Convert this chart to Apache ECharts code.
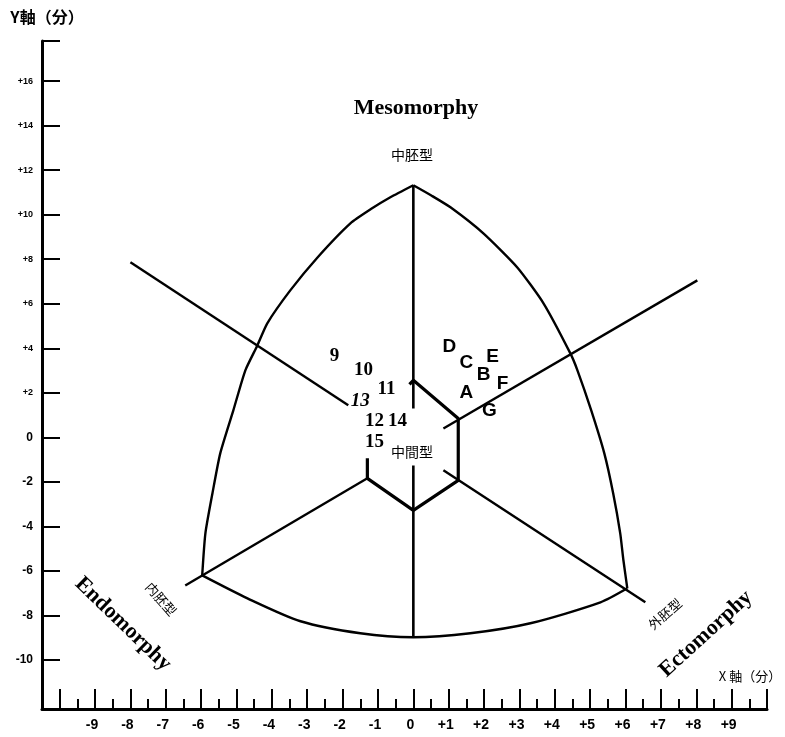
<!DOCTYPE html>
<html><head><meta charset="utf-8">
<script src="https://cdn.jsdelivr.net/npm/echarts@6/dist/echarts.min.js"></script>
<style>html,body{margin:0;padding:0;background:#fff}#c{width:785px;height:737px}</style>
</head><body><div id="c"></div>
<script>
// ---- axis ticks / labels ----
const xMajorTicks = [-10,-9,-8,-7,-6,-5,-4,-3,-2,-1,0,1,2,3,4,5,6,7,8,9,10];
const xMinorTicks = [-9.5,-8.5,-7.5,-6.5,-5.5,-4.5,-3.5,-2.5,-1.5,-0.5,0.5,1.5,2.5,3.5,4.5,5.5,6.5,7.5,8.5,9.5];
const xLabelValues = [-9,-8,-7,-6,-5,-4,-3,-2,-1,0,1,2,3,4,5,6,7,8,9];
const yTicks = [-10,-8,-6,-4,-2,0,2,4,6,8,10,12,14,16,17.8];
const yLabelValues = [-10,-8,-6,-4,-2,0,2,4,6,8,10,12,14,16];

// ---- somatochart outline ----
const leftArc = [[0,11.32],[-0.65,10.78],[-1.20,10.25],[-1.78,9.61],[-2.71,8.08],[-3.48,6.60],[-4.13,5.12],[-4.41,4.13],[-4.75,3.01],[-5.09,1.21],[-5.46,-0.72],[-5.68,-2.51],[-5.88,-4.31],[-5.97,-6.20]];
const rightArc = [[0,11.32],[0.52,10.85],[1.05,10.33],[1.98,9.16],[2.94,7.63],[3.68,6.02],[4.44,3.77],[4.64,3.01],[5.03,1.21],[5.40,-0.72],[5.65,-2.51],[5.85,-4.31],[5.94,-5.52],[6.05,-6.78]];
const bottomArc = [[-5.97,-6.20],[-4.69,-7.23],[-3.19,-8.26],[-1.50,-8.80],[0,-8.98],[1.61,-8.80],[3.31,-8.35],[5.29,-7.41],[6.05,-6.78]];
const mesoAxisUpper = [[0,11.32],[0,1.30]];
const mesoAxisLower = [[0,-1.26],[0,-8.98]];
const ectoAxisUpper = [[-8.00,7.86],[-1.84,1.44]];
const ectoAxisLower = [[0.85,-1.48],[6.56,-7.41]];
const endoAxisLower = [[-6.45,-6.65],[-1.30,-1.84]];
const endoAxisUpper = [[0.85,0.40],[8.03,7.05]];
const hexagonPath = [[-1.30,-0.94],[-1.30,-1.84],[0,-3.28],[1.27,-1.93],[1.27,0.85],[0,2.56],[-0.11,2.38]];

// ---- subjects ----
const letterNames = ['A','B','C','D','E','F','G'];
const letterX = [1.50,1.99,1.50,1.02,2.24,2.52,2.15];
const letterY = [2.02,2.83,3.37,4.09,3.64,2.42,1.21];
const numberNames = ['9','10','11','12','13','14','15'];
const numberX = [-2.23,-1.41,-0.76,-1.10,-1.50,-0.45,-1.10];
const numberY = [3.64,3.01,2.15,0.72,1.62,0.72,-0.22];

function lineSeries(data, width, smooth) {
  return {type:'line', data:data, symbol:'none', smooth:smooth||false, silent:true,
    lineStyle:{color:'#000', width:width}, z:3};
}

const chart = echarts.init(document.getElementById('c'), null, {renderer:'canvas'});
const labelBase = {show:true, position:'inside', color:'#000', opacity:1, textBorderWidth:0, fontWeight:'bold', fontSize:19};
const option = {
  animation:false,
  backgroundColor:'#fff',
  grid:{left:42, right:18, top:41, bottom:28},
  xAxis:[{
    type:'value', min:-10.5, max:10, position:'bottom',
    axisLine:{show:true, onZero:false, lineStyle:{color:'#000', width:3}},
    axisTick:{show:true, inside:true, length:20, customValues:xMajorTicks, lineStyle:{color:'#000', width:2}},
    axisLabel:{show:true, customValues:xLabelValues, margin:9, color:'#000', fontSize:14, fontWeight:'bold',
      fontFamily:'Liberation Sans, Arial', padding:[0,6,0,0],
      formatter:function(v){return v>0 ? '+'+v : String(v);}},
    splitLine:{show:false}
  },{
    type:'value', min:-10.5, max:10, position:'bottom',
    axisLine:{show:false, onZero:false},
    axisTick:{show:true, inside:true, length:10, customValues:xMinorTicks, lineStyle:{color:'#000', width:2}},
    axisLabel:{show:false}, splitLine:{show:false}
  }],
  yAxis:{
    type:'value', min:-12.2, max:17.8,
    axisLine:{show:true, onZero:false, lineStyle:{color:'#000', width:3}},
    axisTick:{show:true, inside:true, length:18, customValues:yTicks, lineStyle:{color:'#000', width:2}},
    axisLabel:{show:true, customValues:yLabelValues, margin:9, color:'#000', fontWeight:'bold',
      fontFamily:'Liberation Sans, Arial',
      formatter:function(v){return v>0 ? '{s|+'+v+'}' : '{b|'+v+'}';},
      rich:{s:{fontSize:9, fontWeight:'bold', color:'#000'}, b:{fontSize:12, fontWeight:'bold', color:'#000'}}},
    splitLine:{show:false}
  },
  series:[
    lineSeries(leftArc,2.4,0.2),
    lineSeries(rightArc,2.4,0.2),
    lineSeries(bottomArc,2.4,0.25),
    lineSeries(mesoAxisUpper,2.6),
    lineSeries(mesoAxisLower,2.6),
    lineSeries(ectoAxisUpper,2.4),
    lineSeries(ectoAxisLower,2.4),
    lineSeries(endoAxisLower,2.4),
    lineSeries(endoAxisUpper,2.4),
    lineSeries(hexagonPath,3.2),
    {type:'scatter', symbol:'circle', symbolSize:0.1, itemStyle:{color:'#000'}, z:5, silent:true,
      data:letterNames.map(function(n,i){return [letterX[i],letterY[i],n];}),
      label:Object.assign({}, labelBase, {fontFamily:'Liberation Sans, Arial',
        formatter:function(p){return p.data[2];}})},
    {type:'scatter', symbol:'circle', symbolSize:0.1, itemStyle:{color:'#000'}, z:5, silent:true,
      data:numberNames.map(function(n,i){
        return {value:[numberX[i],numberY[i],n], label:{fontStyle: n==='13' ? 'italic' : 'normal'}};
      }),
      label:Object.assign({}, labelBase, {fontFamily:'Liberation Serif, Times New Roman',
        formatter:function(p){return p.data.value[2];}})}
  ],
  graphic:[
    {type:'text', x:47, y:17, style:{text:'Y軸（分）', fill:'#000', font:'bold 16px "Noto Sans CJK JP"', textAlign:'center', textVerticalAlign:'middle'}},
    {type:'text', x:750, y:676, style:{text:'X 軸（分）', fill:'#000', font:'13px "Noto Sans CJK JP"', textAlign:'center', textVerticalAlign:'middle'}},
    {type:'text', x:416, y:108, style:{text:'Mesomorphy', fill:'#000', font:'bold 22px "Liberation Serif"', textAlign:'center', textVerticalAlign:'middle'}},
    {type:'text', x:412, y:155, style:{text:'中胚型', fill:'#000', font:'14px "Noto Sans CJK JP"', textAlign:'center', textVerticalAlign:'middle'}},
    {type:'text', x:412, y:452, z:6, style:{text:'中間型', fill:'#000', font:'14px "Noto Sans CJK JP"', textAlign:'center', textVerticalAlign:'middle'}},
    {type:'text', x:123, y:624, rotation:-0.77, style:{text:'Endomorphy', fill:'#000', font:'bold 22px "Liberation Serif"', textAlign:'center', textVerticalAlign:'middle'}},
    {type:'text', x:161, y:599, rotation:-0.85, style:{text:'内胚型', fill:'#000', font:'13px "Noto Sans CJK JP"', textAlign:'center', textVerticalAlign:'middle'}},
    {type:'text', x:706, y:634, rotation:0.74, style:{text:'Ectomorphy', fill:'#000', font:'bold 22px "Liberation Serif"', textAlign:'center', textVerticalAlign:'middle'}},
    {type:'text', x:665, y:614, rotation:0.72, style:{text:'外胚型', fill:'#000', font:'13px "Noto Sans CJK JP"', textAlign:'center', textVerticalAlign:'middle'}}
  ]
};
chart.setOption(option);
</script>
</body></html>
